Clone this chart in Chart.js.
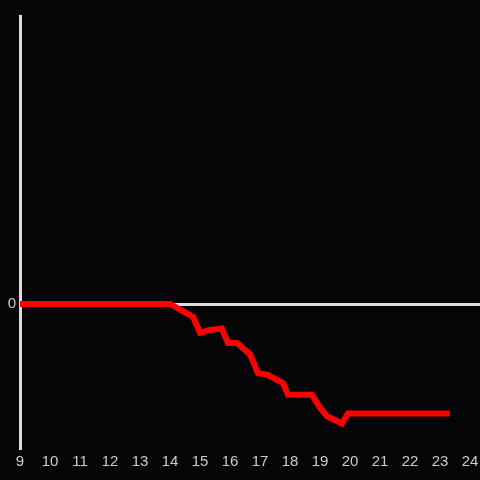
<!DOCTYPE html>
<html>
<head>
<meta charset="utf-8">
<script src="https://cdn.jsdelivr.net/npm/chart.js@4"></script>
<style>
  html, body { margin: 0; padding: 0; background: #050407; }
  #wrap { width: 480px; height: 480px; }
</style>
</head>
<body>
<div id="wrap"><canvas id="chart"></canvas></div>
<script>
// hour of day and value
const hours = [9, 14, 14.77, 15, 15.33, 15.73, 15.93, 16.23, 16.67, 16.93, 17.23, 17.77, 17.93, 18.73, 19, 19.23, 19.73, 19.93, 23.33];
const values = [0, 0, -0.09, -0.2, -0.18, -0.17, -0.27, -0.27, -0.35, -0.48, -0.49, -0.55, -0.63, -0.63, -0.72, -0.78, -0.83, -0.76, -0.76];
const xTicks = [9, 10, 11, 12, 13, 14, 15, 16, 17, 18, 19, 20, 21, 22, 23, 24];
const yTicks = [0];

const points = hours.map((h, i) => ({ x: h, y: values[i] }));

const ctx = document.getElementById('chart').getContext('2d');
new Chart(ctx, {
    type: 'line',
    data: {
        datasets: [{
            data: points,
            borderColor: '#ff0000',
            borderWidth: 6,
            pointRadius: 0,
            tension: 0,
            fill: false
        }]
    },
    options: {
        responsive: true,
        maintainAspectRatio: false,
        animation: false,
        layout: { padding: { top: 16, right: -2, left: 0, bottom: 0 } },
        plugins: {
            legend: { display: false },
            tooltip: { enabled: false }
        },
        scales: {
            x: {
                type: 'linear',
                min: 9,
                max: 24 + 1 / 3,
                afterBuildTicks: (s) => { s.ticks = xTicks.map(v => ({ value: v })); },
                afterFit: (s) => { s.height = 32; },
                grid: { display: false },
                border: { display: false },
                ticks: {
                    color: '#cccccc',
                    font: { family: 'Liberation Sans', size: 15 },
                    padding: -3,
                    maxRotation: 0,
                    autoSkip: false
                }
            },
            y: {
                min: -1,
                max: 2,
                afterBuildTicks: (s) => { s.ticks = yTicks.map(v => ({ value: v })); },
                afterFit: (s) => { s.width = 20; },
                grid: {
                    color: '#dddddd',
                    lineWidth: 3,
                    drawTicks: false
                },
                border: { display: true, color: '#dddddd', width: 3 },
                ticks: {
                    color: '#cccccc',
                    font: { family: 'Liberation Sans', size: 15 },
                    padding: 4
                }
            }
        }
    },
    plugins: [{
        id: 'bg',
        beforeDraw: (chart) => {
            const c = chart.ctx;
            c.save();
            c.fillStyle = '#050407';
            c.fillRect(0, 0, chart.width, chart.height);
            c.restore();
        }
    }]
});
</script>
</body>
</html>
